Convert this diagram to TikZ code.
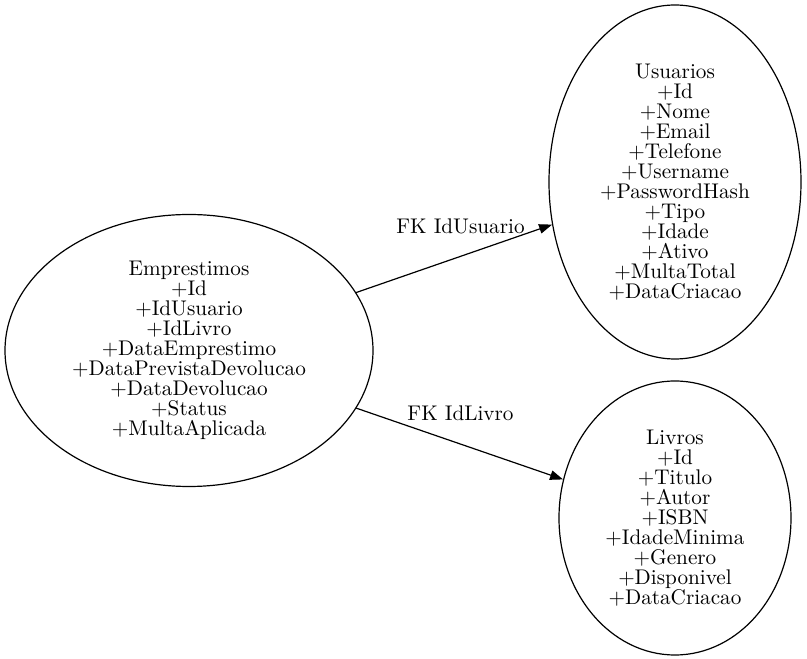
\documentclass[tikz,border=0pt]{standalone}
\usepackage{fontspec}
\setmainfont{lmroman10}[Extension=.otf, UprightFont=*-regular, BoldFont=*-bold, ItalicFont=*-italic, BoldItalicFont=*-bolditalic]
\usetikzlibrary{shapes.geometric,arrows.meta}
\tikzset{
  x=1pt,y=1pt,
  ent/.style={draw, ellipse, inner sep=0pt, align=center, line width=1.2pt,
    font=\fontsize{21.2}{20}\selectfont},
  fk/.style={line width=1.2pt, -{Triangle[length=13pt,width=9.5pt]}},
  fklabel/.style={inner sep=0pt, font=\fontsize{21.2}{20}\selectfont}
}
\begin{document}
\begin{tikzpicture}
\useasboundingbox (0,0) rectangle (807,659);
\node[ent, minimum width=368pt, minimum height=272pt] (emp) at (189,308.5)
  {Emprestimos\\+Id\\+IdUsuario\\+IdLivro\\+DataEmprestimo\\+DataPrevistaDevolucao\\+DataDevolucao\\+Status\\+MultaAplicada};
\node[ent, minimum width=252pt, minimum height=354pt] (usu) at (675,477)
  {Usuarios\\+Id\\+Nome\\+Email\\+Telefone\\+Username\\+PasswordHash\\+Tipo\\+Idade\\+Ativo\\+MultaTotal\\+DataCriacao};
\node[ent, minimum width=232pt, minimum height=274pt] (liv) at (675,141)
  {Livros\\+Id\\+Titulo\\+Autor\\+ISBN\\+IdadeMinima\\+Genero\\+Disponivel\\+DataCriacao};
\draw[fk] (emp) -- (usu);
\draw[fk] (emp) -- (liv);
\node[fklabel] (l1) at (460.5,433) {FK IdUsuario};
\node[fklabel] (l2) at (460.5,246) {FK IdLivro};
\end{tikzpicture}
\end{document}
